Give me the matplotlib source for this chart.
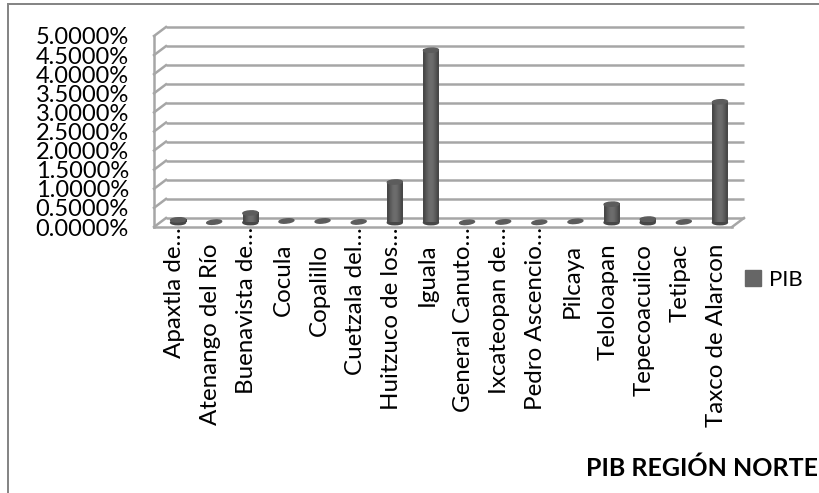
import numpy as np
import matplotlib
matplotlib.use("Agg")
import matplotlib.pyplot as plt
from matplotlib.lines import Line2D
from matplotlib.patches import Ellipse, Patch
from matplotlib.transforms import Affine2D, IdentityTransform

plt.rcParams['font.family'] = ['Lato', 'DejaVu Sans']

municipios = ["Apaxtla de…", "Atenango del Río", "Buenavista de…", "Cocula", "Copalillo",
              "Cuetzala del…", "Huitzuco de los…", "Iguala", "General Canuto…", "Ixcateopan de…",
              "Pedro Ascencio…", "Pilcaya", "Teloloapan", "Tepecoacuilco", "Tetipac",
              "Taxco de Alarcon"]
pib = [0.07, 0.01, 0.25, 0.04, 0.04, 0.015, 1.06, 4.51, 0.005, 0.015, 0.005, 0.03, 0.48, 0.09,
       0.015, 3.16]
y_ticks = [0.0, 0.5, 1.0, 1.5, 2.0, 2.5, 3.0, 3.5, 4.0, 4.5, 5.0]

W, H = 820, 493
GRID = "#a6a6a6"
BORDER = "#868686"
BAR_DARK = "#474747"
BAR_LIGHT = "#6e6e6e"

fig = plt.figure(figsize=(W / 100, H / 100), dpi=100)
# the axes is the front plane of the fake 3d box
ax = fig.add_axes([154 / W, (H - 227) / H, 578 / W, 191 / H])
ax.set_xlim(-0.5, 15.5)
ax.set_ylim(0, 5)
for s in ax.spines.values():
    s.set_visible(False)

# depth offsets, in pixels
mid = ax.transData + Affine2D().translate(6, 4.5)
back = ax.transData + Affine2D().translate(12, 9)


def seg(x0, y0, x1, y1, color=GRID, lw=2.0):
    # line in pixel coordinates, y measured from the top
    fig.add_artist(Line2D([x0, x1], [H - y0, H - y1], transform=IdentityTransform(),
                          color=color, lw=lw * 0.72, solid_capstyle="butt"))


# walls
for v in y_ticks:
    ax.plot([-0.5, 15.5], [v, v], color=GRID, lw=1.8, transform=back, clip_on=False, zorder=1,
            solid_capstyle="butt")
    px, py = ax.transData.transform((-0.5, v))
    ax.add_line(Line2D([px, px + 12], [py, py + 9], transform=IdentityTransform(), color=GRID,
                       lw=1.8, clip_on=False, zorder=1))
ax.plot([-0.5, -0.5], [0, 5], color=GRID, lw=1.8, clip_on=False, zorder=1)
ax.plot([-0.5, 15.5], [0, 0], color=GRID, lw=1.8, clip_on=False, zorder=1)
px, py = ax.transData.transform((15.5, 0))
ax.add_line(Line2D([px, px + 12], [py, py + 9], transform=IdentityTransform(), color=GRID,
                   lw=1.8, clip_on=False, zorder=1))

# cylinders
width = 15 / 36.1
x = np.arange(len(pib))
grad = np.array([[0.0, 0.45, 0.85, 1.0, 0.85, 0.45, 0.0]])
cmap = matplotlib.colors.LinearSegmentedColormap.from_list("cyl", [BAR_DARK, BAR_LIGHT])
bars = ax.bar(x, pib, width=width, color=BAR_DARK, transform=mid, clip_on=False, zorder=3)
for b, xi, v in zip(bars, x, pib):
    cx, cy = mid.transform((xi, 0))
    tx, ty = mid.transform((xi, v))
    tilt = 6 if v < 0.06 else 3
    if v >= 0.06:
        im = ax.imshow(grad, cmap=cmap, aspect="auto", vmin=0, vmax=1, interpolation="bilinear",
                       extent=(xi - width / 2, xi + width / 2, 0, v), transform=mid,
                       clip_on=False, zorder=3.1)
        ax.add_patch(Ellipse((cx, cy), 15, 4.5, transform=IdentityTransform(), color=BAR_DARK,
                             clip_on=False, zorder=3))
    else:
        b.set_visible(False)
    ax.add_patch(Ellipse((tx, ty), 15, 4.2, angle=tilt, transform=IdentityTransform(),
                         color="#5c5c5c", clip_on=False, zorder=3.2))
ax.set_xlim(-0.5, 15.5)
ax.set_ylim(0, 5)

# ticks
ax.set_yticks(y_ticks)
ax.set_yticklabels([f"{v:.4f}%" for v in y_ticks])
ax.tick_params(axis="y", length=0, pad=18, labelsize=17)
ax.set_xticks(x)
ax.set_xticklabels(municipios, rotation=90, fontsize=17.4)
ax.tick_params(axis="x", length=0)
for tick, name in zip(ax.xaxis.get_major_ticks(), municipios):
    tick.set_pad(0 if name.endswith("…") else 12)
    tick.label1.set_transform(tick.label1.get_transform() + Affine2D().translate(2.5, 0))

ax.legend(handles=[Patch(color="#666666", label="PIB")], loc="upper left",
          bbox_to_anchor=(745 / W, (H - 270) / H), bbox_transform=fig.transFigure, frameon=False,
          fontsize=16, handlelength=0.7, handleheight=0.7, handletextpad=0.4, borderpad=0,
          borderaxespad=0)

fig.text(818 / W, (H - 468) / H, "PIB REGIÓN NORTE", ha="right", va="center", fontsize=18,
         fontweight="bold")

# chart frame
seg(8, 4, W, 4, BORDER)
seg(8, 3, 8, H, BORDER)

fig.savefig("out.png", dpi=100)
